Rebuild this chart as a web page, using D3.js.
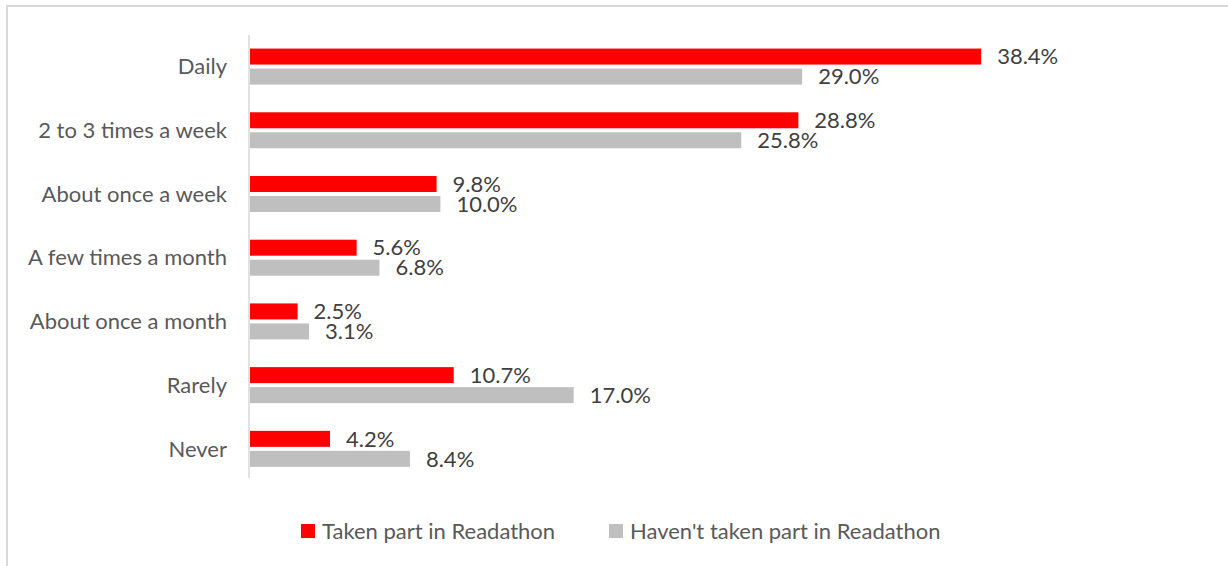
<!DOCTYPE html>
<html>
<head>
<meta charset="utf-8">
<script src="https://cdn.jsdelivr.net/npm/d3@7"></script>
<style>
  html, body { margin: 0; padding: 0; background: #fff; }
  svg { display: block; }
  text { font-family: Lato, "Open Sans", sans-serif; }
</style>
</head>
<body>
<svg id="chart" width="1228" height="566"></svg>
<script>
// Reading frequency by Readathon participation
const categories = [
  "Daily",
  "2 to 3 times a week",
  "About once a week",
  "A few times a month",
  "About once a month",
  "Rarely",
  "Never"
];
const takenPart = [38.4, 28.8, 9.8, 5.6, 2.5, 10.7, 4.2];
const notTakenPart = [29.0, 25.8, 10.0, 6.8, 3.1, 17.0, 8.4];
const seriesNames = ["Taken part in Readathon", "Haven't taken part in Readathon"];
const seriesColors = ["#FF0000", "#BFBFBF"];

const svg = d3.select("#chart");
const W = 1228, H = 566;

// chart frame (left and top edges only are visible)
svg.append("line").attr("x1", 7).attr("x2", 7).attr("y1", 6).attr("y2", H)
  .attr("stroke", "#D9D9D9").attr("stroke-width", 2);
svg.append("line").attr("x1", 6).attr("x2", W).attr("y1", 6).attr("y2", 6)
  .attr("stroke", "#D9D9D9").attr("stroke-width", 2);

const x0 = 250;
const pxPerUnit = 19.04;
const x = d3.scaleLinear().domain([0, 45]).range([x0, x0 + 45 * pxPerUnit]);

const y = d3.scaleBand().domain(categories).range([34.7, 480.7]).paddingInner(0).paddingOuter(0);
const barH = 16, barGap = 4;

const series = [takenPart, notTakenPart];

// vertical category axis line
svg.append("line").attr("x1", 249).attr("x2", 249)
  .attr("y1", 35).attr("y2", 478)
  .attr("stroke", "#D9D9D9").attr("stroke-width", 1.5);

// category labels
const yAxis = d3.axisLeft(y).tickSize(0).tickPadding(0);
const axisG = svg.append("g").attr("transform", "translate(227,0)").call(yAxis);
axisG.select(".domain").remove();
axisG.selectAll("text")
  .attr("fill", "#595959")
  .style("font-family", "Lato, 'Open Sans', sans-serif")
  .style("font-size", "22px")
  .attr("dy", "0.35em");

// bars and value labels
series.forEach((vals, si) => {
  const g = svg.append("g");
  const offset = si === 0 ? -barGap / 2 - barH : barGap / 2;
  const rows = categories.map((c, i) => ({ c, v: vals[i] }));
  g.selectAll("rect").data(rows).join("rect")
    .attr("x", x(0))
    .attr("y", d => y(d.c) + y.bandwidth() / 2 + offset)
    .attr("width", d => x(d.v) - x(0))
    .attr("height", barH)
    .attr("fill", seriesColors[si]);
  g.selectAll("text").data(rows).join("text")
    .attr("x", d => x(d.v) + 16)
    .attr("y", d => y(d.c) + y.bandwidth() / 2 + offset + barH / 2)
    .attr("dy", "0.35em")
    .attr("fill", "#404040")
    .style("font-size", "22px")
    .text(d => d.v.toFixed(1) + "%");
});

// legend
const legendX = [301, 609];
const legend = svg.append("g");
seriesNames.forEach((name, i) => {
  legend.append("rect")
    .attr("x", legendX[i]).attr("y", 524)
    .attr("width", 14).attr("height", 14)
    .attr("fill", seriesColors[i]);
  legend.append("text")
    .attr("x", legendX[i] + 21).attr("y", 531)
    .attr("dy", "0.35em")
    .attr("fill", "#595959")
    .style("font-size", "22px")
    .text(name);
});
</script>
</body>
</html>
